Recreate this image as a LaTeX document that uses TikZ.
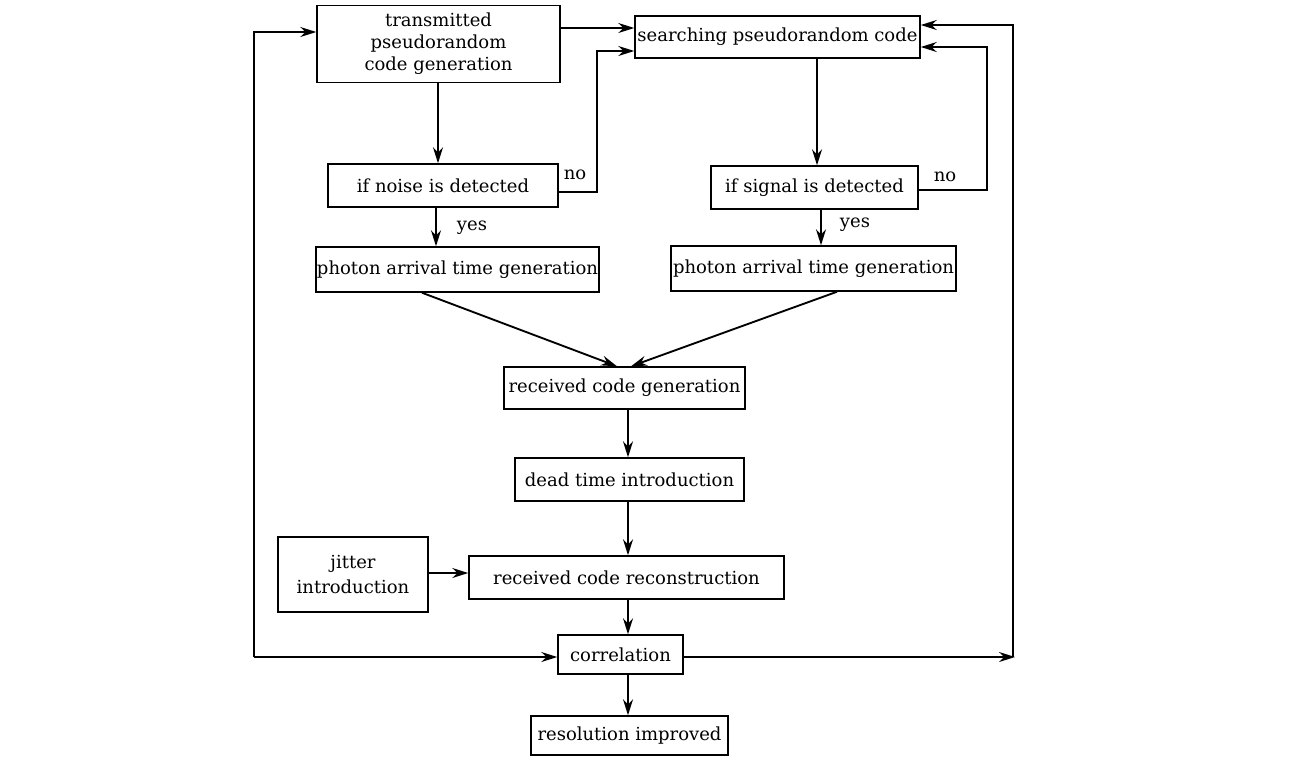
\documentclass[tikz,border=0pt]{standalone}
\usepackage{fontspec}
\setmainfont{DejaVu Serif}
\usetikzlibrary{arrows.meta,calc}
\begin{document}
\begin{tikzpicture}[x=0.75pt,y=-0.75pt,
  box/.style={draw,line width=1.1pt,inner sep=0pt,align=center,font=\fontsize{13.5}{16.5}\selectfont},
  arr/.style={line width=1.4pt,-{Stealth[length=12pt,width=7.5pt,inset=4pt]}},
  lab/.style={font=\fontsize{13.5}{17}\selectfont,inner sep=0pt}]
\useasboundingbox[fill=white] (0,0) rectangle (1294,758);
% nodes
\node[box,minimum width=182.25pt,minimum height=57.75pt] (trans) at (438.5,44) {transmitted\\pseudorandom\\code generation};
\node[box,minimum width=213.75pt,minimum height=31.5pt] (search) at (777.5,37) {searching pseudorandom code};
\node[box,minimum width=172.5pt,minimum height=32.25pt] (noise) at (443,185.5) {if noise is detected};
\node[box,minimum width=155.25pt,minimum height=32.25pt] (signal) at (814.5,187.5) {if signal is detected};
\node[box,minimum width=212.25pt,minimum height=33.75pt] (photonL) at (457.5,269.5) {photon arrival time generation};
\node[box,minimum width=213.75pt,minimum height=33.75pt] (photonR) at (813.5,268.5) {photon arrival time generation};
\node[box,minimum width=180.75pt,minimum height=31.5pt] (recgen) at (624.5,388) {received code generation};
\node[box,minimum width=171.75pt,minimum height=32.25pt] (dead) at (629.5,479.5) {dead time introduction};
\node[box,minimum width=236.25pt,minimum height=32.25pt] (recon) at (626.5,577.5) {received code reconstruction};
\node[box,minimum width=112.5pt,minimum height=56.25pt,font=\fontsize{13.5}{19}\selectfont] (jitter) at (353,574.5) {jitter\\introduction};
\node[box,minimum width=93.75pt,minimum height=29.25pt] (corr) at (620.5,654.5) {correlation};
\node[box,minimum width=147.75pt,minimum height=29.25pt] (resol) at (629.5,735.5) {resolution improved};
% labels
\node[lab] (no1) at (575,175) {no};
\node[lab] (no2) at (945,177) {no};
\node[lab] (yes1) at (472,228) {yes};
\node[lab] (yes2) at (855,225) {yes};
% helper coordinates
\coordinate (col) at (628,0);
\coordinate (L) at (254,657);
\coordinate (R) at (1013,657);
\coordinate (Rend) at (1015,657);
\coordinate (nturn) at (597,51);
\coordinate (sturn) at (987,47);
% connectors
\draw[arr] (trans.south -| 438,0) -- (noise.north -| 438,0);
\draw[arr] (trans.east |- 0,28) -- (search.west |- 0,28);
\draw[arr] (noise.east |- 0,192) -| (nturn) -- (search.west |- nturn);
\draw[arr] (search.south -| 817,0) -- (signal.north -| 817,0);
\draw[arr] (signal.east |- 0,190) -| (sturn) -- (search.east |- sturn);
\draw[arr] (noise.south -| 436,0) -- (photonL.north -| 436,0);
\draw[arr] (signal.south -| 821,0) -- (photonR.north -| 821,0);
\draw[arr] (photonL.south -| 422,0) -- (recgen.north -| 617,0);
\draw[arr] (photonR.south -| 837,0) -- (recgen.north -| 631,0);
\draw[arr] (recgen.south -| col) -- (dead.north -| col);
\draw[arr] (dead.south -| col) -- (recon.north -| col);
\draw[arr] (jitter.east |- 0,573) -- (recon.west |- 0,573);
\draw[arr] (recon.south -| col) -- (corr.north -| col);
\draw[arr] (corr.south -| col) -- (resol.north -| col);
\draw[arr] (corr.east |- Rend) -- (Rend);
\draw[arr] (R) -- (R |- 0,25) -- (search.east |- 0,25);
\draw[arr] (L) -- (corr.west |- L);
\draw[arr] (L) -- (L |- 0,32) -- (trans.west |- 0,32);
\end{tikzpicture}
\end{document}
